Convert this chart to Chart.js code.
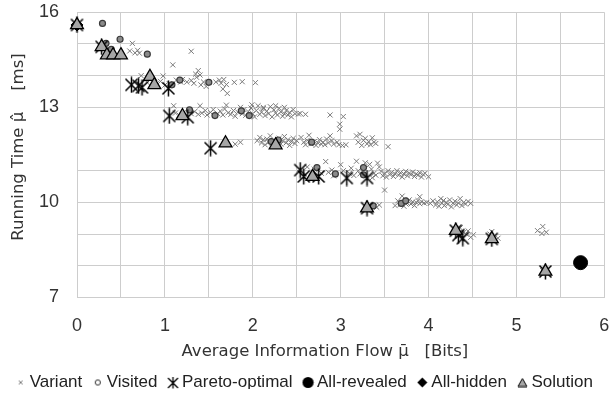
<!DOCTYPE html>
<html>
<head>
<meta charset="utf-8">
<script src="https://cdn.jsdelivr.net/npm/chart.js@4.4.1/dist/chart.umd.min.js"></script>
<style>
  html, body { margin: 0; padding: 0; background: #ffffff; }
  #wrap { width: 613px; height: 394px; position: relative; }
</style>
</head>
<body>
<div id="wrap"><canvas id="c" width="613" height="394"></canvas></div>
<script>
// ---------- data ----------
const xTickValues = [0, 1, 2, 3, 4, 5, 6];
const yTickValues = [7, 10, 13, 16];

const variantPts = [
  [0.63,15.02],[0.60,14.78],[0.66,14.72],[0.71,14.71],[0.69,14.80],[1.30,14.77],[1.09,14.34],[1.38,14.16],
  [1.35,14.05],[1.30,13.85],[1.25,13.80],[0.98,13.99],[0.73,14.00],[1.62,13.86],[1.64,13.76],[1.70,13.72],
  [1.66,13.58],[1.71,13.44],[1.79,13.79],[1.88,13.81],[2.03,13.78],[1.41,13.71],[1.47,13.66],[1.13,13.86],
  [1.18,13.80],[1.05,13.75],[1.00,13.70],[0.95,13.82],[1.36,13.95],[1.40,14.02],[1.20,13.88],[1.33,13.76],
  [1.44,13.80],[0.80,13.78],[0.90,13.74],[1.58,13.80],[1.67,13.88],
  [1.12,12.82],[1.16,12.76],[1.10,13.05],[1.22,12.85],[1.30,12.80],[1.34,12.87],[1.38,12.78],[1.42,12.82],
  [1.46,12.90],[1.48,12.76],[1.40,13.05],[1.52,12.84],[1.55,12.93],[1.60,12.80],[1.63,12.88],[1.66,12.76],
  [1.68,12.95],[1.72,12.83],[1.70,13.07],[1.75,12.78],[1.78,12.90],[1.80,12.72],[1.83,12.85],[1.86,13.00],
  [1.88,12.80],[1.90,12.93],[1.92,12.75],[1.95,12.86],[1.98,12.98],[2.00,12.80],[2.02,12.70],[2.04,12.90],
  [2.06,13.05],[2.08,12.78],[2.10,12.85],[2.12,12.96],[2.14,12.74],[2.16,12.88],[2.18,12.80],[2.20,13.02],
  [2.22,12.70],[2.24,12.92],[2.26,12.82],[2.28,12.76],[2.30,12.97],[2.32,12.86],[2.34,12.72],[2.36,12.80],
  [2.38,12.90],[2.40,12.76],[2.42,12.84],[2.44,12.70],[2.46,12.93],[2.48,12.80],[2.52,12.79],[2.54,12.81],
  [2.60,12.78],[2.88,12.76],[3.03,12.71],[2.99,12.47],[1.99,13.08],[2.26,13.05],[2.36,13.00],[2.12,13.00],
  [1.80,11.84],[1.86,11.90],
  [2.05,11.95],[2.08,12.05],[2.10,11.88],[2.12,11.98],[2.14,11.82],[2.16,12.00],[2.18,11.90],[2.20,12.10],
  [2.22,11.86],[2.24,11.96],[2.28,11.88],[2.30,12.02],[2.32,11.84],[2.34,11.94],[2.36,12.08],[2.38,11.88],
  [2.40,11.98],[2.42,11.80],[2.44,11.92],[2.46,12.02],[2.48,11.86],[2.50,11.95],[2.55,12.05],[2.58,11.90],
  [2.60,11.82],[2.62,11.96],[2.64,12.12],[2.66,11.85],[2.70,11.92],[2.72,11.80],[2.74,11.88],[2.76,11.98],
  [2.78,11.84],[2.80,11.90],[2.82,11.82],[2.84,12.00],[2.86,11.88],[2.88,12.10],[2.90,11.95],[2.92,11.84],
  [2.96,11.90],[2.99,12.31],[3.06,11.82],[3.18,12.10],[3.20,11.90],[3.22,12.15],[3.24,11.80],[3.26,11.96],
  [3.28,12.02],[3.30,11.85],[3.32,11.92],[3.34,11.82],[3.36,12.04],[3.38,11.90],[3.40,11.86],[3.54,11.76],
  [3.02,11.80],[2.98,11.82],
  [2.62,11.12],[2.70,11.05],[2.78,10.92],[2.83,11.29],[2.86,10.95],[2.90,11.02],[2.92,10.84],[3.00,11.19],
  [3.03,11.00],[3.10,10.92],[3.12,11.08],[3.15,10.85],[3.18,11.30],[3.20,11.00],[3.22,10.90],[3.28,11.25],
  [3.33,11.20],[3.35,11.05],[3.38,10.92],[3.42,11.24],[3.44,11.12],[3.46,10.98],[3.48,10.84],[3.50,10.92],
  [3.50,10.39],[3.52,10.80],[3.54,11.00],[3.56,10.88],[3.58,10.95],[3.60,10.82],[3.62,10.90],[3.64,11.00],
  [3.66,10.86],[3.68,10.94],[3.70,10.80],[3.72,10.90],[3.74,10.98],[3.76,10.84],[3.78,10.92],[3.80,10.88],
  [3.82,10.96],[3.84,10.82],[3.86,10.90],[3.88,10.86],[3.90,10.94],[3.92,10.80],[3.94,10.88],[3.96,10.92],
  [4.00,10.81],[3.36,10.78],[3.40,10.86],
  [3.39,9.89],[3.41,9.85],[3.44,9.92],[3.62,9.90],[3.65,10.05],[3.68,9.94],[3.70,10.20],[3.72,9.88],
  [3.75,10.00],[3.78,10.08],[3.80,9.95],[3.82,10.02],[3.84,9.90],[3.86,10.00],[3.88,10.06],[3.90,9.96],
  [3.92,10.02],[3.95,9.98],[3.98,10.00],[4.02,9.97],[4.05,10.05],[4.08,9.92],[4.10,10.02],[4.12,9.88],
  [4.14,10.12],[4.15,9.98],[4.17,10.06],[4.18,9.90],[4.20,10.00],[4.22,9.94],[4.24,10.08],[4.26,9.86],
  [4.28,9.98],[4.30,10.04],[4.32,9.92],[4.34,9.98],[4.36,10.12],[4.38,9.90],[4.40,10.00],[4.42,9.95],
  [4.45,10.03],[4.48,9.97],[3.74,9.96],[3.90,10.18],
  [4.33,9.15],[4.36,9.20],[4.40,9.05],[4.43,9.00],[4.45,9.10],[4.51,8.98],[4.48,8.90],[4.72,9.08],
  [4.70,9.00],[4.79,8.87],[4.76,8.80],[5.24,9.11],[5.30,9.24],[5.29,9.02],[5.34,9.06],[5.33,7.90],[5.30,7.85]
];

const visitedPts = [
  [0.29,15.65],[0.49,15.15],[0.33,15.02],[0.39,14.83],[0.80,14.68],[1.08,13.71],[1.17,13.86],[1.50,13.79],
  [1.28,12.92],[1.57,12.74],[1.87,12.89],[1.96,12.74],[2.21,11.92],[2.29,11.97],[2.67,11.90],[2.73,11.10],
  [2.94,10.90],[3.26,11.10],[3.26,10.87],[3.37,9.89],[3.69,9.97],[3.74,10.05]
];

const paretoPts = [
  [0.00,15.60],[0.28,14.91],[0.62,13.71],[0.70,13.68],[0.74,13.63],[1.04,13.60],[1.05,12.73],[1.26,12.69],
  [1.52,11.71],[2.54,11.02],[2.58,10.82],[2.75,10.82],[3.07,10.77],[3.30,10.77],[3.30,9.82],[4.31,9.11],
  [4.34,8.97],[4.39,8.87],[4.72,8.85],[5.33,7.82]
];

const allRevealedPts = [[5.73,8.10]];
const allHiddenPts = [[0.00,15.60]];

const solutionPts = [
  [0.00,15.60],[0.28,14.91],[0.34,14.65],[0.41,14.65],[0.50,14.65],[0.83,13.97],[0.88,13.71],[1.20,12.73],
  [1.69,11.87],[2.26,11.81],[2.68,10.81],[3.30,9.82],[4.31,9.11],[4.72,8.85],[5.33,7.82]
];

const seriesNames = ['Variant', 'Visited', 'Pareto-optimal', 'All-revealed', 'All-hidden', 'Solution'];

// ---------- marker images ----------
function mk(w, h, draw) {
  const c = document.createElement('canvas');
  c.width = w; c.height = h;
  const g = c.getContext('2d');
  draw(g, w, h);
  return c;
}
const paretoMarker = mk(15, 17, (g) => {
  g.strokeStyle = '#000'; g.lineWidth = 1.5; g.beginPath();
  g.moveTo(1.5, 2.5); g.lineTo(13.5, 14.5);
  g.moveTo(13.5, 2.5); g.lineTo(1.5, 14.5);
  g.moveTo(7.5, 0.5); g.lineTo(7.5, 16.5);
  g.stroke();
});
const legVariant = mk(6, 6, (g) => {
  g.strokeStyle = '#7a7a7a'; g.lineWidth = 1; g.beginPath();
  g.moveTo(1, 1); g.lineTo(5, 5); g.moveTo(5, 1); g.lineTo(1, 5); g.stroke();
});
const legVisited = mk(8, 8, (g) => {
  g.fillStyle = '#fff'; g.strokeStyle = '#303030'; g.lineWidth = 1;
  g.beginPath(); g.arc(4, 4, 2.6, 0, Math.PI * 2); g.fill(); g.stroke();
});
const legPareto = mk(13, 13, (g) => {
  g.strokeStyle = '#000'; g.lineWidth = 1.3; g.beginPath();
  g.moveTo(1.5, 2); g.lineTo(11.5, 12); g.moveTo(11.5, 2); g.lineTo(1.5, 12);
  g.moveTo(6.5, 1); g.lineTo(6.5, 12.5); g.stroke();
});
const legRevealed = mk(13, 13, (g) => {
  g.fillStyle = '#000'; g.beginPath(); g.arc(6.5, 6.5, 5.6, 0, Math.PI * 2); g.fill();
});
const legHidden = mk(11, 11, (g) => {
  g.fillStyle = '#000'; g.beginPath();
  g.moveTo(5.5, 0.5); g.lineTo(10.5, 5.5); g.lineTo(5.5, 10.5); g.lineTo(0.5, 5.5); g.closePath(); g.fill();
});
const legSolution = mk(11, 10, (g) => {
  g.fillStyle = '#a6a6a6'; g.strokeStyle = '#000'; g.lineWidth = 1; g.beginPath();
  g.moveTo(5.5, 1); g.lineTo(10, 9); g.lineTo(1, 9); g.closePath(); g.fill(); g.stroke();
});
const legendMarkers = [legVariant, legVisited, legPareto, legRevealed, legHidden, legSolution];

const toXY = a => a.map(p => ({ x: p[0], y: p[1] }));

Chart.defaults.font.family = "'Liberation Sans', Arial, sans-serif";
Chart.defaults.color = '#333333';

const gridColor = '#cdcdcd';
const titleFont = { family: "'DejaVu Sans', sans-serif", size: 16.5 };

new Chart(document.getElementById('c'), {
  type: 'scatter',
  data: {
    datasets: [
      { label: seriesNames[0], data: toXY(variantPts), order: 6, pointStyle: 'crossRot', radius: 3.6,
        borderColor: '#7a7a7a', backgroundColor: '#7a7a7a', borderWidth: 1 },
      { label: seriesNames[1], data: toXY(visitedPts), order: 5, pointStyle: 'circle', radius: 3,
        borderColor: '#3a3a3a', backgroundColor: '#8a8a8a', borderWidth: 1.2 },
      { label: seriesNames[2], data: toXY(paretoPts), order: 4, pointStyle: paretoMarker },
      { label: seriesNames[3], data: toXY(allRevealedPts), order: 3, pointStyle: 'circle', radius: 7,
        borderColor: '#000', backgroundColor: '#000', borderWidth: 1 },
      { label: seriesNames[4], data: toXY(allHiddenPts), order: 2, pointStyle: 'rectRot', radius: 6,
        borderColor: '#000', backgroundColor: '#000', borderWidth: 1 },
      { label: seriesNames[5], data: toXY(solutionPts), order: 1, pointStyle: 'triangle', radius: 7.4,
        borderColor: '#000', backgroundColor: '#a6a6a6', borderWidth: 1.3 }
    ]
  },
  options: {
    responsive: false,
    animation: false,
    events: [],
    devicePixelRatio: 1,
    clip: false,
    layout: { padding: { top: 12.3, right: 0, left: 0, bottom: 5 } },
    scales: {
      x: {
        type: 'linear', min: 0, max: 6,
        afterFit: s => { s.height = 61.5; s.paddingLeft = 0; s.paddingRight = 6; },
        grid: { color: gridColor, drawTicks: false, lineWidth: 1 },
        border: { color: gridColor },
        ticks: {
          stepSize: 0.5, autoSkip: false, padding: 18, color: '#333',
          font: { size: 18 },
          callback: v => (xTickValues.includes(v) ? String(v) : '')
        },
        title: {
          display: true, color: '#333',
          text: 'Average Information Flow \u03bc\u0304   [Bits]      ',
          font: titleFont, padding: { top: 0, bottom: -2.5 }
        }
      },
      y: {
        type: 'linear', min: 7, max: 16,
        afterFit: s => { s.width = 77; s.paddingTop = 0; s.paddingBottom = 0; },
        grid: { color: gridColor, drawTicks: false, lineWidth: 1 },
        border: { color: gridColor },
        ticks: {
          stepSize: 1, autoSkip: false, padding: 18, color: '#333',
          font: { size: 18 },
          callback: v => (yTickValues.includes(v) ? String(v) : '')
        },
        title: {
          display: true, color: '#333',
          text: '   Running Time \u03bc\u0302    [ms]',
          font: titleFont, padding: { top: 9, bottom: 0 }
        }
      }
    },
    plugins: {
      tooltip: { enabled: false },
      legend: {
        display: true, position: 'bottom', align: 'center', maxHeight: 30,
        labels: {
          usePointStyle: true, boxWidth: 1, boxHeight: 1, padding: 15,
          color: '#222', font: { size: 17 },
          generateLabels: () => seriesNames.map((name, i) => ({
            text: name, datasetIndex: i, hidden: false, pointStyle: legendMarkers[i],
            fillStyle: '#000', strokeStyle: '#000', lineWidth: 0, fontColor: '#222'
          }))
        }
      }
    }
  }
});
</script>
</body>
</html>
